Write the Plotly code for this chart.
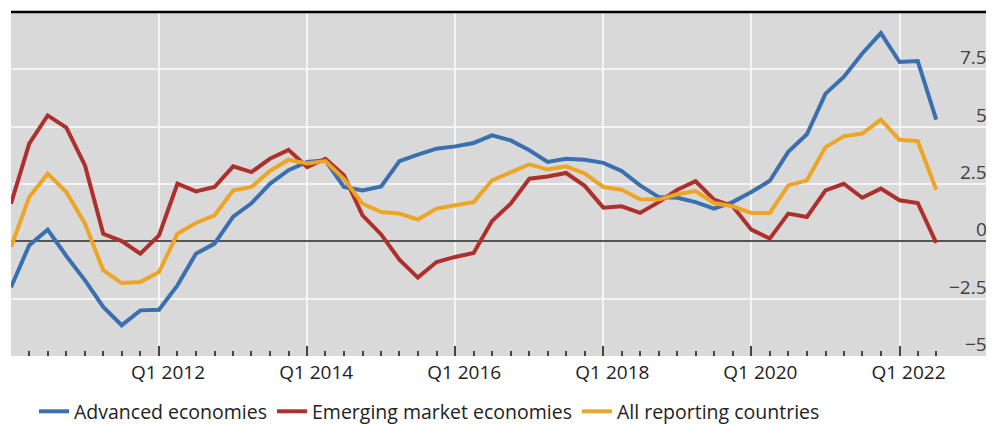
import plotly.graph_objects as go
import pandas as pd

quarters = [d.strftime("%Y-%m-%d") for d in pd.date_range("2010-01-01", periods=51, freq="QS")]

advanced = [-2.0, -0.17, 0.51, -0.64, -1.70, -2.86, -3.66, -3.01, -2.98, -1.92,
            -0.54, -0.10, 1.08, 1.66, 2.51, 3.10, 3.46, 3.53, 2.37, 2.22,
            2.39, 3.50, 3.78, 4.04, 4.14, 4.29, 4.62, 4.40, 3.97, 3.46,
            3.60, 3.56, 3.42, 3.07, 2.44, 1.93, 1.90, 1.71, 1.43, 1.71,
            2.15, 2.64, 3.90, 4.67, 6.44, 7.17, 8.19, 9.08, 7.82, 7.86, 5.31]

emerging = [1.64, 4.26, 5.49, 4.96, 3.31, 0.33, 0.01, -0.54, 0.26, 2.51,
            2.18, 2.37, 3.27, 3.02, 3.60, 3.99, 3.24, 3.60, 2.88, 1.13,
            0.30, -0.80, -1.58, -0.90, -0.68, -0.51, 0.89, 1.64, 2.73, 2.83,
            2.98, 2.42, 1.47, 1.53, 1.24, 1.71, 2.25, 2.62, 1.82, 1.53,
            0.51, 0.12, 1.21, 1.06, 2.22, 2.51, 1.90, 2.30, 1.79, 1.67, -0.07]

all_reporting = [-0.25, 1.93, 2.95, 2.15, 0.77, -1.26, -1.82, -1.77, -1.34, 0.33,
                 0.80, 1.13, 2.22, 2.37, 3.07, 3.56, 3.39, 3.50, 2.73, 1.64,
                 1.28, 1.21, 0.95, 1.43, 1.57, 1.71, 2.66, 3.02, 3.36, 3.13,
                 3.27, 2.96, 2.37, 2.25, 1.83, 1.82, 2.05, 2.19, 1.67, 1.53,
                 1.24, 1.24, 2.44, 2.66, 4.11, 4.58, 4.70, 5.31, 4.43, 4.37, 2.25]

x_tickvals = ["2010-01-01", "2012-01-01", "2014-01-01", "2016-01-01", "2018-01-01", "2020-01-01", "2022-01-01"]
x_ticktext = ["", "Q1 2012", "Q1 2014", "Q1 2016", "Q1 2018", "Q1 2020", "Q1 2022"]
y_tickvals = [-5, -2.5, 0, 2.5, 5, 7.5]
y_ticktext = ["\u22125", "\u22122.5", "0", "2.5", "5", "7.5"]

series = [
    ("Advanced economies", advanced, "#3a6fb0"),
    ("Emerging market economies", emerging, "#ae302c"),
    ("All reporting countries", all_reporting, "#eda526"),
]

fig = go.Figure()
for name, vals, color in series:
    fig.add_trace(go.Scatter(x=quarters, y=vals, mode="lines", name=name,
                             line=dict(color=color, width=4)))

font = "Open Sans, sans-serif"
annotations = [
    dict(x=0.995, xref="paper", xanchor="right", y=v, yref="y", yanchor="bottom",
         yshift=-3, text=t, showarrow=False,
         font=dict(family=font, size=19, color="#404040"))
    for v, t in zip(y_tickvals, y_ticktext)
]

# page body has an 8px margin, so the figure is sized to fit the window
fig.update_layout(
    width=986, height=417,
    margin=dict(l=3, r=0, t=4, b=69, autoexpand=False),
    paper_bgcolor="white",
    plot_bgcolor="#d9d9d9",
    font=dict(family=font, size=19, color="#333333"),
    showlegend=True,
    legend=dict(orientation="h", x=0.0234, xanchor="left", y=-0.105, yanchor="top",
                font=dict(family=font, size=19.5, color="#222222"),
                itemwidth=30, tracegroupgap=0, bgcolor="rgba(0,0,0,0)"),
    xaxis=dict(
        type="date", automargin=False,
        range=["2010-01-01", "2023-04-12"],
        tickmode="array", tickvals=x_tickvals, ticktext=x_ticktext,
        ticks="inside", ticklen=10, tickwidth=1.5, tickcolor="#444444",
        ticklabelshift=9, ticklabelstandoff=3,
        showgrid=True, gridcolor="#f4f4f4", gridwidth=1.5,
        showline=False, zeroline=False,
        tickfont=dict(family=font, size=19, color="#222222"),
        minor=dict(ticks="inside", ticklen=5, tickwidth=1.5, tickcolor="#444444",
                   tickmode="array", tickvals=quarters, showgrid=False),
    ),
    yaxis=dict(
        range=[-5, 10], automargin=False,
        tickmode="array", tickvals=y_tickvals, showticklabels=False, ticks="",
        showgrid=True, gridcolor="#f4f4f4", gridwidth=1.5,
        zeroline=True, zerolinecolor="#555555", zerolinewidth=1.5,
        showline=False,
    ),
    annotations=annotations,
    shapes=[dict(type="line", xref="paper", yref="paper", x0=0, x1=1, y0=1, y1=1,
                 line=dict(color="black", width=2.5))],
)

fig.write_html("out.html")
